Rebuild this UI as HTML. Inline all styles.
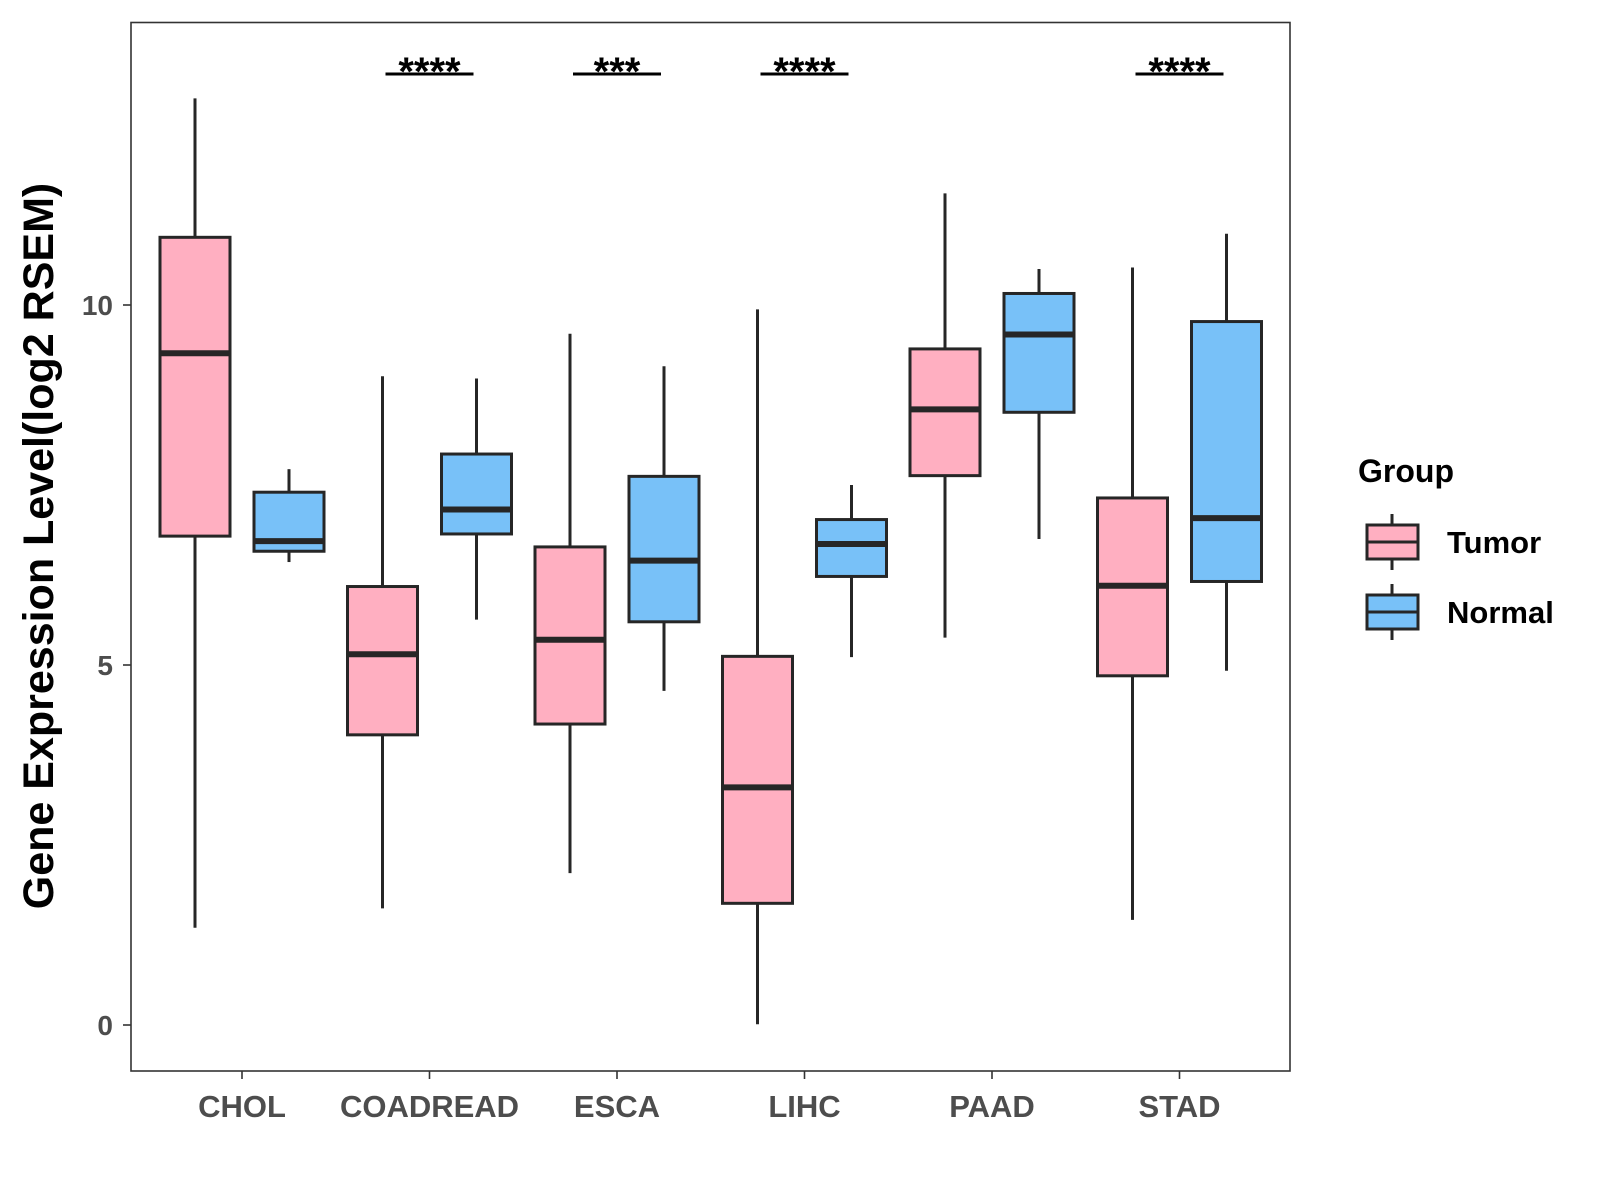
<!DOCTYPE html>
<html><head><meta charset="utf-8"><style>
html,body{margin:0;padding:0;background:#fff;}
svg{display:block;font-family:"Liberation Sans",Arial,sans-serif;}
</style></head><body>
<svg id="chart" width="1600" height="1200" viewBox="0 0 1600 1200" xmlns="http://www.w3.org/2000/svg"></svg>
<script>
const categories = ["CHOL","COADREAD","ESCA","LIHC","PAAD","STAD"];
// [min, q1, median, q3, max]
const tumorStats = [
  [1.35,6.79,9.33,10.94,12.87],
  [1.62,4.03,5.15,6.09,9.01],
  [2.11,4.18,5.35,6.64,9.60],
  [0.01,1.69,3.30,5.12,9.94],
  [5.38,7.63,8.55,9.39,11.55],
  [1.46,4.85,6.10,7.32,10.52]
];
const normalStats = [
  [6.43,6.58,6.72,7.40,7.72],
  [5.63,6.82,7.16,7.93,8.98],
  [4.64,5.60,6.45,7.62,9.15],
  [5.11,6.23,6.68,7.02,7.50],
  [6.75,8.51,9.59,10.16,10.50],
  [4.92,6.16,7.04,9.77,10.99]
];
const significance = ["","****","***","****","","****"];
const yTicks = [0,5,10];

const svg = document.getElementById('chart');
const NS = "http://www.w3.org/2000/svg";
const P = {l:131, t:22.5, r:1290, b:1071};
const y = v => 1025 - v*72;
const x = i => 242 + i*187.5;
const off = 47, bw = 70;
function mk(tag, attrs, parent){const e=document.createElementNS(NS,tag);for(const k in attrs)e.setAttribute(k,attrs[k]);(parent||svg).appendChild(e);return e;}

const panel = mk('rect',{x:P.l,y:P.t,width:P.r-P.l,height:P.b-P.t,fill:'none',stroke:'#333',"stroke-width":1.6});



function drawBox(s, cx, fill, name){
  const g = mk('g',{});
  
  
  mk('line',{x1:cx,x2:cx,y1:y(s[0]),y2:y(s[1]),stroke:'#262626',"stroke-width":3},g);
  mk('line',{x1:cx,x2:cx,y1:y(s[3]),y2:y(s[4]),stroke:'#262626',"stroke-width":3},g);
  mk('rect',{x:cx-bw/2,y:y(s[3]),width:bw,height:y(s[1])-y(s[3]),fill:fill,stroke:'#262626',"stroke-width":3},g);
  mk('line',{x1:cx-bw/2,x2:cx+bw/2,y1:y(s[2]),y2:y(s[2]),stroke:'#262626',"stroke-width":6},g);
}
categories.forEach((c,i)=>{
  drawBox(tumorStats[i], x(i)-off, '#FFAFC1', 'box-tumor-'+c.toLowerCase());
  drawBox(normalStats[i], x(i)+off, '#78C1F8', 'box-normal-'+c.toLowerCase());
  const t = mk('line',{x1:x(i),x2:x(i),y1:P.b,y2:P.b+8,stroke:'#333',"stroke-width":1.6});
  
  
  const lb = mk('text',{x:x(i),y:1117,"text-anchor":'middle',"font-size":31,"font-weight":'bold',fill:'#4d4d4d'});
  lb.textContent = c;
  
  
  if(significance[i]){
    const sl = mk('line',{x1:x(i)-44,x2:x(i)+44,y1:74,y2:74,stroke:'#000',"stroke-width":3});
    
    
    const st = mk('text',{x:x(i),y:85,"text-anchor":'middle',"font-size":40,"font-weight":'bold',fill:'#000'});
    st.textContent = significance[i];
    
    
  }
});
yTicks.forEach(v=>{
  const t = mk('line',{x1:P.l-8,x2:P.l,y1:y(v),y2:y(v),stroke:'#333',"stroke-width":1.6});
  
  
  const lb = mk('text',{x:P.l-18,y:y(v)+10,"text-anchor":'end',"font-size":28,"font-weight":'bold',fill:'#4d4d4d'});
  lb.textContent = v;
  
  
});
const yt = mk('text',{x:0,y:0,transform:'translate(53,546) rotate(-90)',"text-anchor":'middle',"font-size":43,"font-weight":'bold',fill:'#000'});
yt.textContent = 'Gene Expression Level(log2 RSEM)';



const lt = mk('text',{x:1358,y:482,"font-size":32,"font-weight":'bold',fill:'#000'});
lt.textContent = 'Group';


[['Tumor','#FFAFC1',542],['Normal','#78C1F8',612]].forEach(([n,f,cy])=>{
  const g = mk('g',{});
  
  
  mk('line',{x1:1392,x2:1392,y1:cy-28,y2:cy+28,stroke:'#262626',"stroke-width":3},g);
  mk('rect',{x:1367,y:cy-17,width:51,height:34,fill:f,stroke:'#262626',"stroke-width":3},g);
  mk('line',{x1:1367,x2:1418,y1:cy,y2:cy,stroke:'#262626',"stroke-width":3},g);
  const tx = mk('text',{x:1447,y:cy+11,"font-size":31,"font-weight":'bold',fill:'#000'},g);
  tx.textContent = n;
});
</script>
</body></html>
